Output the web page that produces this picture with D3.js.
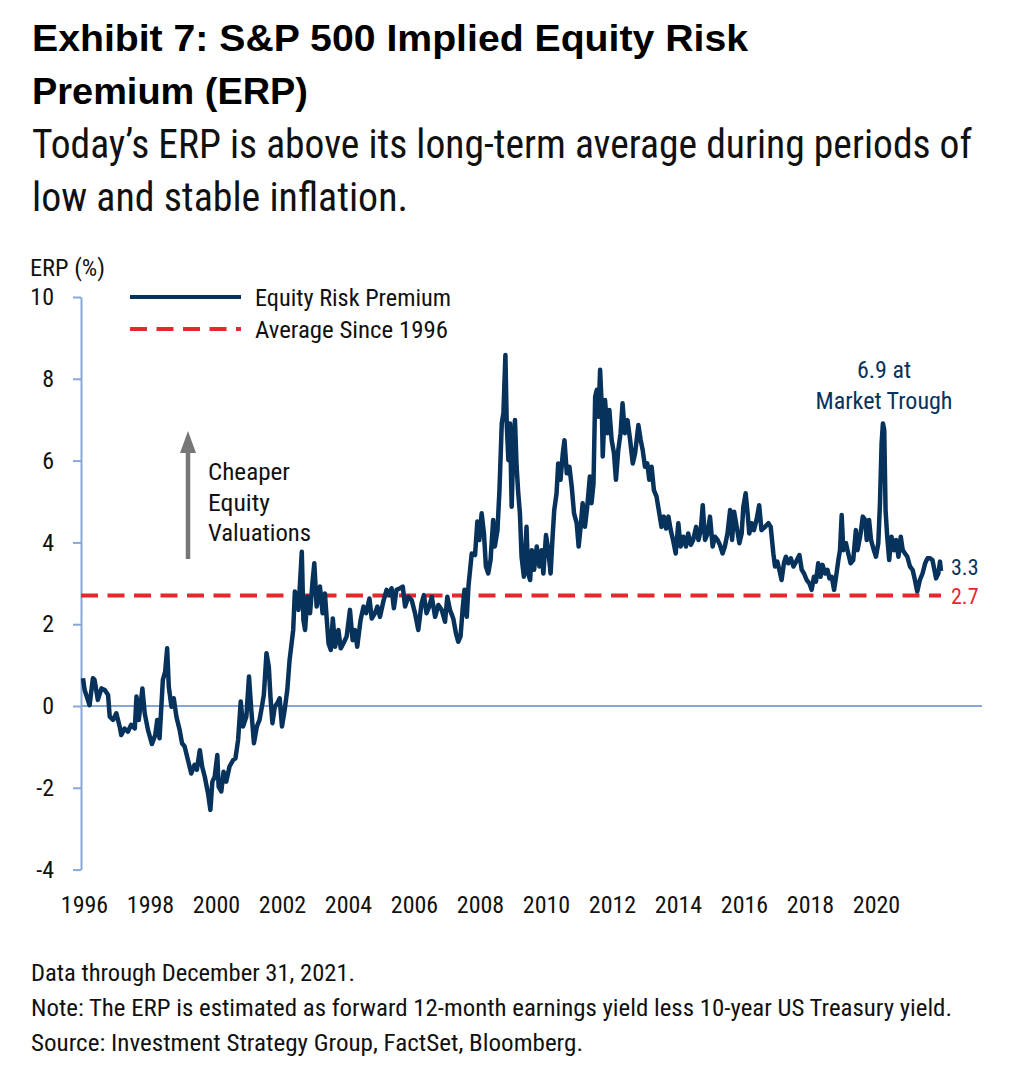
<!DOCTYPE html>
<html>
<head>
<meta charset="utf-8">
<script src="https://cdn.jsdelivr.net/npm/d3@7"></script>
<style>
  html, body { margin: 0; padding: 0; background: #ffffff; }
  svg { display: block; }
  .narrow { font-family: "Liberation Sans Narrow", "Roboto Condensed", "Arial Narrow", "Liberation Sans", sans-serif; }
</style>
</head>
<body>
<svg id="chart" width="1014" height="1066"></svg>
<script>
// ---------------- DATA ----------------
const yearTicks = [1996, 1998, 2000, 2002, 2004, 2006, 2008, 2010, 2012, 2014, 2016, 2018, 2020];
const valueTicks = [-4, -2, 0, 2, 4, 6, 8, 10];
const averageSince1996 = 2.7;
const latestValue = 3.3;
const troughValue = 6.9;

const erp1996_2001 = [[1996.00,0.68],[1996.05,0.39],[1996.20,0.02],[1996.30,0.68],[1996.35,0.64],[1996.45,0.15],[1996.56,0.43],[1996.66,0.39],[1996.76,0.27],[1996.81,-0.26],[1996.91,-0.34],[1997.01,-0.18],[1997.11,-0.50],[1997.16,-0.71],[1997.26,-0.55],[1997.36,-0.63],[1997.46,-0.46],[1997.57,-0.55],[1997.62,0.23],[1997.69,-0.34],[1997.80,0.43],[1997.87,-0.18],[1997.97,-0.59],[1998.09,-0.93],[1998.19,-0.71],[1998.25,-0.34],[1998.32,-0.79],[1998.42,0.64],[1998.49,0.84],[1998.55,1.41],[1998.60,0.47],[1998.68,-0.02],[1998.75,0.19],[1998.83,-0.26],[1998.93,-0.59],[1999.00,-0.91],[1999.08,-0.99],[1999.18,-1.32],[1999.28,-1.65],[1999.38,-1.44],[1999.45,-1.56],[1999.54,-1.08],[1999.61,-1.48],[1999.69,-1.73],[1999.79,-2.14],[1999.86,-2.54],[1999.92,-1.85],[1999.99,-1.73],[2000.07,-1.20],[2000.11,-1.97],[2000.19,-2.09],[2000.26,-1.61],[2000.34,-1.85],[2000.44,-1.48],[2000.55,-1.32],[2000.62,-1.28],[2000.70,-0.83],[2000.78,0.11],[2000.85,-0.50],[2000.95,-0.26],[2001.03,0.72],[2001.10,-0.10],[2001.18,-0.91],[2001.27,-0.50],[2001.35,-0.34],[2001.42,-0.02],[2001.48,0.27],[2001.56,1.29],[2001.63,0.96],[2001.68,0.23],[2001.74,-0.42],[2001.81,-0.02],[2001.89,0.07],[2001.96,0.19]];

const erp2002_2007 = [[2002.03,-0.50],[2002.11,-0.10],[2002.19,0.39],[2002.26,1.12],[2002.37,1.86],[2002.42,2.80],[2002.53,2.35],[2002.63,3.77],[2002.68,2.10],[2002.73,1.86],[2002.80,2.67],[2002.88,2.27],[2002.96,3.08],[2003.01,3.49],[2003.08,2.43],[2003.18,2.92],[2003.26,2.27],[2003.33,2.75],[2003.44,1.53],[2003.51,1.37],[2003.57,2.14],[2003.64,1.45],[2003.74,1.86],[2003.81,1.41],[2003.89,1.53],[2003.99,1.70],[2004.09,2.35],[2004.17,1.61],[2004.24,1.86],[2004.31,1.45],[2004.41,2.10],[2004.50,2.43],[2004.58,2.27],[2004.68,2.63],[2004.75,2.14],[2004.85,2.27],[2004.92,2.43],[2005.00,2.18],[2005.10,2.55],[2005.20,2.84],[2005.28,2.71],[2005.35,2.88],[2005.42,2.39],[2005.50,2.84],[2005.61,2.88],[2005.69,2.92],[2005.76,2.43],[2005.86,2.67],[2005.96,2.59],[2006.06,2.27],[2006.16,1.86],[2006.26,2.51],[2006.33,2.71],[2006.41,2.27],[2006.49,2.43],[2006.57,2.67],[2006.67,2.18],[2006.77,2.47],[2006.87,2.35],[2006.97,2.06],[2007.04,2.67],[2007.12,2.35],[2007.22,2.14],[2007.30,1.78],[2007.37,1.57],[2007.44,1.70],[2007.51,2.43],[2007.56,2.84],[2007.63,2.18],[2007.68,2.92],[2007.78,3.73],[2007.88,3.69],[2007.95,4.51]];

const erp2008_2013 = [[2008.01,4.06],[2008.08,4.71],[2008.15,4.22],[2008.21,3.41],[2008.28,3.24],[2008.35,3.57],[2008.43,4.55],[2008.48,3.90],[2008.56,4.30],[2008.62,5.28],[2008.69,6.91],[2008.74,7.16],[2008.80,8.58],[2008.84,6.91],[2008.89,6.01],[2008.94,6.91],[2008.99,4.87],[2009.04,6.34],[2009.09,6.99],[2009.14,5.85],[2009.19,5.20],[2009.24,4.71],[2009.29,3.65],[2009.36,3.16],[2009.44,4.38],[2009.49,3.24],[2009.55,3.08],[2009.60,3.81],[2009.67,3.33],[2009.75,3.90],[2009.83,3.41],[2009.90,3.81],[2009.95,3.24],[2010.03,4.18],[2010.10,3.81],[2010.17,3.24],[2010.23,4.14],[2010.28,4.79],[2010.35,5.20],[2010.40,5.93],[2010.47,5.53],[2010.54,6.18],[2010.59,6.50],[2010.66,5.69],[2010.74,5.85],[2010.81,5.36],[2010.88,4.71],[2010.96,4.47],[2011.02,3.90],[2011.08,4.38],[2011.14,4.96],[2011.21,4.38],[2011.28,4.87],[2011.36,5.61],[2011.41,4.96],[2011.47,5.44],[2011.52,7.56],[2011.57,7.73],[2011.62,7.07],[2011.67,8.22],[2011.72,7.32],[2011.75,6.10],[2011.82,7.48],[2011.89,6.67],[2011.95,7.24],[2012.02,6.50],[2012.09,6.18],[2012.15,5.53],[2012.22,6.26],[2012.29,6.67],[2012.35,7.40],[2012.42,6.67],[2012.50,6.99],[2012.58,6.50],[2012.66,5.93],[2012.73,6.18],[2012.83,6.87],[2012.90,6.50],[2012.96,6.26],[2013.03,5.85],[2013.10,5.93],[2013.16,5.53],[2013.23,5.85],[2013.30,5.28],[2013.38,5.12],[2013.48,4.63],[2013.53,4.38],[2013.60,4.63],[2013.67,4.34],[2013.74,4.63],[2013.81,4.30],[2013.89,4.02],[2013.96,3.73]];

const erp2014_2021 = [[2014.04,4.47],[2014.11,3.90],[2014.19,4.14],[2014.27,3.90],[2014.34,4.22],[2014.42,3.94],[2014.49,4.06],[2014.58,4.38],[2014.65,4.06],[2014.72,4.30],[2014.78,4.91],[2014.85,4.06],[2014.93,4.22],[2015.00,4.63],[2015.08,3.90],[2015.15,4.14],[2015.23,4.06],[2015.30,3.94],[2015.38,3.73],[2015.45,3.90],[2015.53,4.22],[2015.61,4.79],[2015.67,4.06],[2015.73,4.75],[2015.81,4.38],[2015.89,3.98],[2015.96,4.22],[2016.01,4.87],[2016.08,5.20],[2016.14,4.71],[2016.19,4.22],[2016.26,4.47],[2016.33,4.30],[2016.41,4.55],[2016.49,4.91],[2016.56,4.30],[2016.67,4.38],[2016.77,4.47],[2016.84,4.38],[2016.92,3.73],[2016.97,3.41],[2017.04,3.53],[2017.10,3.33],[2017.17,3.08],[2017.24,3.49],[2017.30,3.65],[2017.37,3.49],[2017.45,3.61],[2017.53,3.41],[2017.61,3.53],[2017.71,3.69],[2017.78,3.33],[2017.85,3.24],[2017.93,3.08],[2018.01,3.00],[2018.08,2.84],[2018.15,3.16],[2018.21,3.04],[2018.28,3.49],[2018.35,3.16],[2018.41,3.45],[2018.49,3.24],[2018.56,3.33],[2018.62,3.12],[2018.69,3.16],[2018.76,2.84],[2018.82,3.16],[2018.89,3.57],[2018.94,3.81],[2018.99,4.67],[2019.04,3.81],[2019.12,3.98],[2019.19,3.73],[2019.26,3.49],[2019.34,3.57],[2019.42,4.30],[2019.47,3.81],[2019.55,4.14],[2019.63,4.63],[2019.70,4.55],[2019.75,4.06],[2019.82,4.55],[2019.88,4.06],[2019.95,3.85],[2020.03,3.65],[2020.10,3.98],[2020.15,4.95],[2020.20,6.42],[2020.24,6.91],[2020.28,6.75],[2020.32,4.79],[2020.37,4.14],[2020.43,3.57],[2020.50,4.14],[2020.58,3.81],[2020.64,4.06],[2020.71,3.65],[2020.78,4.14],[2020.84,3.81],[2020.91,3.73],[2020.98,3.65],[2021.06,3.41],[2021.14,3.33],[2021.21,3.08],[2021.28,2.80],[2021.36,3.08],[2021.44,3.24],[2021.52,3.49],[2021.59,3.61],[2021.67,3.61],[2021.74,3.57],[2021.80,3.33],[2021.85,3.12],[2021.92,3.24],[2021.97,3.53],[2022.00,3.30]];

// ---------------- CHART ----------------
const NAVY = "#07325c";
const RED = "#e8262d";
const AXIS = "#88a7d6";
const GRAY = "#777777";
const TXT = "#111111";
const NARROW = "'Liberation Sans Narrow', 'Roboto Condensed', 'Arial Narrow', 'Liberation Sans', sans-serif";

const series = [].concat(erp1996_2001, erp2002_2007, erp2008_2013, erp2014_2021);

const svg = d3.select("#chart");
const x = d3.scaleLinear().domain([1996, 2022]).range([83, 941]);
const y = d3.scaleLinear().domain([-4, 10]).range([869.6, 297]);

// Title
const title = svg.append("g").attr("font-family", "'Liberation Sans', Arial, sans-serif").attr("font-weight", 700).attr("fill", "#000");
title.append("text").attr("x", 32).attr("y", 51).attr("font-size", 36)
  .attr("textLength", 716).attr("lengthAdjust", "spacingAndGlyphs")
  .text("Exhibit 7: S&P 500 Implied Equity Risk");
title.append("text").attr("x", 32).attr("y", 104).attr("font-size", 36)
  .attr("textLength", 276).attr("lengthAdjust", "spacingAndGlyphs")
  .text("Premium (ERP)");

const sub = svg.append("g").attr("class", "narrow").attr("fill", "#111");
sub.append("text").attr("x", 32).attr("y", 158).attr("font-size", 41)
  .attr("textLength", 940).attr("lengthAdjust", "spacingAndGlyphs")
  .text("Today\u2019s ERP is above its long-term average during periods of");
sub.append("text").attr("x", 32).attr("y", 211).attr("font-size", 41)
  .attr("textLength", 376).attr("lengthAdjust", "spacingAndGlyphs")
  .text("low and stable inflation.");

// Axis title
svg.append("text").attr("class", "narrow").attr("x", 30).attr("y", 276).attr("font-size", 23).attr("fill", TXT)
  .attr("textLength", 75).attr("lengthAdjust", "spacingAndGlyphs").text("ERP (%)");

// Y axis
const yAxis = d3.axisLeft(y).tickValues(valueTicks).tickSize(8).tickSizeOuter(0).tickPadding(19).tickFormat(d => String(d));
const gy = svg.append("g").attr("transform", "translate(81,0)").call(yAxis);
gy.select(".domain").attr("stroke", AXIS).attr("stroke-width", 2);
gy.selectAll(".tick line").attr("stroke", AXIS).attr("stroke-width", 2);
gy.selectAll(".tick text").attr("font-size", 24).attr("fill", TXT).attr("font-family", NARROW);

// Zero line
svg.append("line").attr("x1", 81).attr("x2", 982).attr("y1", y(0)).attr("y2", y(0))
  .attr("stroke", AXIS).attr("stroke-width", 2);

// X axis labels (no line / ticks)
const xAxis = d3.axisBottom(x).tickValues(yearTicks).tickSize(0).tickPadding(0).tickFormat(d => String(d));
const gx = svg.append("g").attr("transform", "translate(1,896)").call(xAxis);
gx.select(".domain").remove();
gx.selectAll(".tick text").attr("font-size", 24).attr("fill", TXT).attr("font-family", NARROW);

// Average line
svg.append("line").attr("x1", 81).attr("x2", x(2022)).attr("y1", y(averageSince1996)).attr("y2", y(averageSince1996))
  .attr("stroke", RED).attr("stroke-width", 4).attr("stroke-dasharray", "17,9.5");

// ERP line
const line = d3.line().x(d => x(d[0])).y(d => y(d[1])).curve(d3.curveLinear);
svg.append("path").datum(series).attr("d", line).attr("fill", "none")
  .attr("stroke", NAVY).attr("stroke-width", 4.5).attr("stroke-linejoin", "round");

// End labels
svg.append("text").attr("x", 951).attr("y", y(latestValue) + 4).attr("font-size", 22).attr("font-family", NARROW)
  .attr("fill", NAVY).text(latestValue.toFixed(1));
svg.append("text").attr("x", 951).attr("y", y(averageSince1996) + 8).attr("font-size", 22).attr("font-family", NARROW)
  .attr("fill", RED).text(averageSince1996.toFixed(1));

// Trough annotation
const ann = svg.append("g").attr("font-family", NARROW).attr("fill", NAVY).attr("font-size", 24).attr("text-anchor", "middle");
ann.append("text").attr("x", 884).attr("y", 378).text(troughValue.toFixed(1) + " at");
ann.append("text").attr("x", 884).attr("y", 409).attr("textLength", 137).attr("lengthAdjust", "spacingAndGlyphs").text("Market Trough");

// Arrow + text
svg.append("line").attr("x1", 188).attr("x2", 188).attr("y1", 559).attr("y2", 450)
  .attr("stroke", GRAY).attr("stroke-width", 4.5);
svg.append("path").attr("d", "M188,431 L196,453 L180,453 Z").attr("fill", GRAY);
const cheap = svg.append("g").attr("font-family", NARROW).attr("fill", TXT).attr("font-size", 24);
cheap.append("text").attr("x", 208).attr("y", 480).attr("textLength", 82).attr("lengthAdjust", "spacingAndGlyphs").text("Cheaper");
cheap.append("text").attr("x", 208).attr("y", 511).attr("textLength", 62).attr("lengthAdjust", "spacingAndGlyphs").text("Equity");
cheap.append("text").attr("x", 208).attr("y", 541).attr("textLength", 103).attr("lengthAdjust", "spacingAndGlyphs").text("Valuations");

// Legend
const lg = svg.append("g");
lg.append("line").attr("x1", 130).attr("x2", 241).attr("y1", 297).attr("y2", 297).attr("stroke", NAVY).attr("stroke-width", 4);
lg.append("line").attr("x1", 130).attr("x2", 241).attr("y1", 329).attr("y2", 329).attr("stroke", RED).attr("stroke-width", 4).attr("stroke-dasharray", "17,9.5");
lg.append("text").attr("font-family", NARROW).attr("x", 255).attr("y", 306).attr("font-size", 24).attr("fill", TXT)
  .attr("textLength", 196).attr("lengthAdjust", "spacingAndGlyphs").text("Equity Risk Premium");
lg.append("text").attr("font-family", NARROW).attr("x", 255).attr("y", 338).attr("font-size", 24).attr("fill", TXT)
  .attr("textLength", 193).attr("lengthAdjust", "spacingAndGlyphs").text("Average Since 1996");

// Footnotes
const fn = svg.append("g").attr("font-family", NARROW).attr("fill", TXT).attr("font-size", 23);
fn.append("text").attr("x", 31).attr("y", 981).attr("textLength", 324).attr("lengthAdjust", "spacingAndGlyphs").text("Data through December 31, 2021.");
fn.append("text").attr("x", 31).attr("y", 1016).attr("textLength", 921).attr("lengthAdjust", "spacingAndGlyphs").text("Note: The ERP is estimated as forward 12-month earnings yield less 10-year US Treasury yield.");
fn.append("text").attr("x", 31).attr("y", 1051).attr("textLength", 552).attr("lengthAdjust", "spacingAndGlyphs").text("Source: Investment Strategy Group, FactSet, Bloomberg.");
</script>
</body>
</html>
